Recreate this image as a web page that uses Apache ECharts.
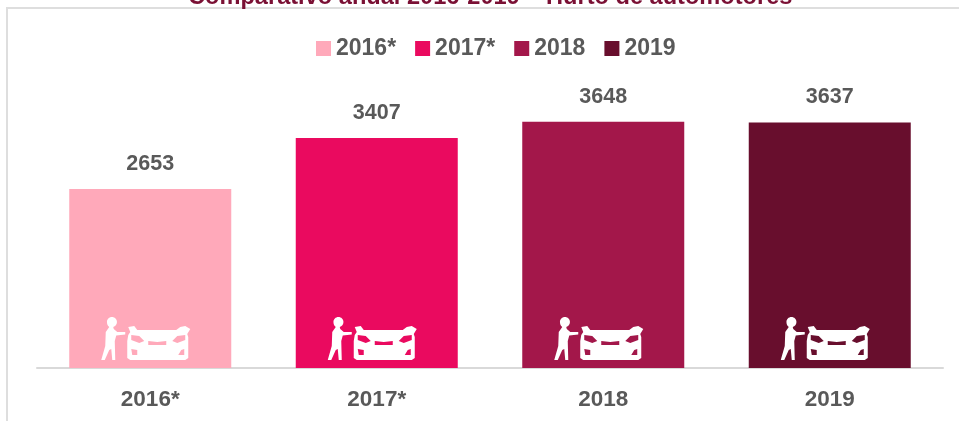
<!DOCTYPE html>
<html><head><meta charset="utf-8">
<style>html,body{margin:0;padding:0;background:#fff}#c{width:959px;height:421px}</style>
<script src="https://cdn.jsdelivr.net/npm/echarts@6/dist/echarts.min.js"></script></head>
<body><div id="c"></div>
<script>
const categories = ['2016*','2017*','2018','2019'];
const values = [2653,3407,3648,3637];
const colors = ['#FFA9BA','#EA0A5F','#A3174A','#680E2D'];
const titleText = 'Comparativo anual 2016-2019 – Hurto de automotores';
const FONT = '"Liberation Sans", Arial, sans-serif';
const iconPath = 'path://' +
 'M10.7 0 C13.5 0 15.7 2.2 15.7 5 C15.7 7.4 14 9.4 12 9.9 L12.5 12 L16 15 L24 15 L24 17.5 L15 18.5 L13.5 24 L14 43 L11 43 L10 32 L8 33 L3.5 43 L0 43 L4 29 L4.5 15 L8 10 C6.5 9 5.7 7 5.7 5 C5.7 2.2 7.9 0 10.7 0 Z ' +
 'M27 10 L33 9 L36 13 L75 13 L79 10 L84 9 L89 12 L86 17 L87 20 L87 41 L84 43 L29 43 L26 41 L26 24 L27 18 L29 15 Z ' +
 'M30 18 L30 23 L38 26 L43 24 L38 19 Z ' +
 'M76 19 L71 24 L76 26 L84 23 L84 18 Z ' +
 'M47 24 L47 28 L65 28 L65 24 L56 25 Z ' +
 'M30 32 L31 38 L36 38 L36 33 Z ' +
 'M80 33 L77 38 L83 38 L83 32 Z';

const barSeries = categories.map((c,i)=>({
  name:c, type:'bar', stack:'y', barWidth:162,
  data:categories.map((_,j)=> j===i ? values[i] : null),
  itemStyle:{color:colors[i]},
  label:{show:true,position:'top',distance:14,formatter:'{c}',color:'#595959',fontFamily:FONT,fontWeight:'bold',fontSize:21.5}
}));
const iconSeries = {
  type:'pictorialBar', name:'icon', data:values, z:5, silent:true,
  symbol:iconPath, symbolSize:[89,43], symbolPosition:'start', symbolOffset:[-4.5,-8],
  itemStyle:{color:'#fff'}, label:{show:false}
};
const chart = echarts.init(document.getElementById('c'),null,{renderer:'canvas'});
chart.setOption({
  animation:false, backgroundColor:'#fff',
  title:{text:titleText,left:183,top:-20,textStyle:{color:'#7A1034',fontFamily:FONT,fontWeight:'bold',fontSize:23.6}},
  legend:{data:categories,top:32,left:311,itemWidth:15,itemHeight:15,itemGap:19,icon:'rect',
    textStyle:{color:'#595959',fontFamily:FONT,fontWeight:'bold',fontSize:23,padding:[0,0,0,0]}},
  grid:{left:37,right:16,top:98,bottom:53},
  xAxis:{type:'category',data:categories,
    axisTick:{show:false},
    axisLine:{lineStyle:{color:'#D9D9D9',width:2}},
    axisLabel:{color:'#595959',fontFamily:FONT,fontWeight:'bold',fontSize:22.5,margin:20}},
  yAxis:{type:'value',min:0,max:4000,show:false,splitLine:{show:false}},
  graphic:[
    {type:'line',silent:true,shape:{x1:6,y1:8,x2:959,y2:8},style:{stroke:'#DEDEDE',lineWidth:2}},
    {type:'line',silent:true,shape:{x1:7,y1:8,x2:7,y2:421},style:{stroke:'#DEDEDE',lineWidth:2}}
  ],
  series:[...barSeries,iconSeries]
});
</script></body></html>
